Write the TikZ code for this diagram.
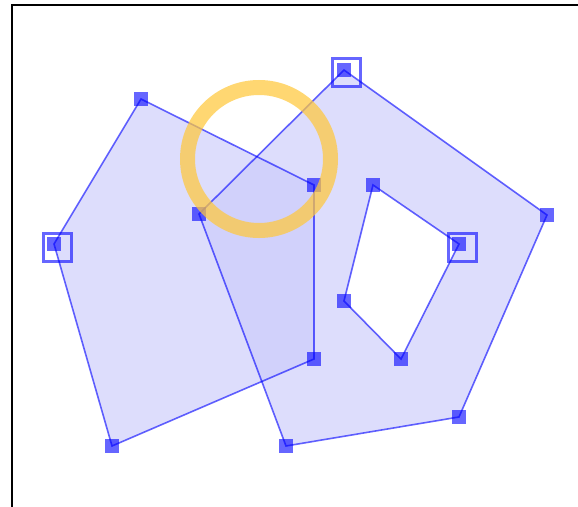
\documentclass[tikz,border=0pt]{standalone}
\begin{document}
\begin{tikzpicture}[x=1pt,y=-1pt,
  edge/.style={draw=blue,draw opacity=0.6,line width=1.6pt},
  face/.style={fill={rgb,255:red,221;green,221;blue,252}},
  overlapface/.style={fill={rgb,255:red,209;green,209;blue,251}},
  handle/.style={rectangle,fill=blue,fill opacity=0.6,minimum size=14pt,inner sep=0pt,draw=none},
  selbox/.style={rectangle,draw=blue,draw opacity=0.6,line width=3pt,minimum size=28pt,inner sep=0pt},
  ring/.style={draw={rgb,255:red,255;green,200;blue,60},draw opacity=0.72,line width=15pt}]
\useasboundingbox (0,0) rectangle (578,506);
\clip (0,0) rectangle (578,506);
\draw[line width=2pt,black] (11.8,4.5) rectangle (640,560);
% vertices
\coordinate (a1) at (141,99);
\coordinate (a2) at (314,185);
\coordinate (a3) at (314,359);
\coordinate (a4) at (112,446);
\coordinate (a5) at (54,244);
\coordinate (b1) at (344,70);
\coordinate (b2) at (547,215);
\coordinate (b3) at (459,417);
\coordinate (b4) at (286,446);
\coordinate (b5) at (199,214);
\coordinate (h1) at (373,185);
\coordinate (h2) at (459,244);
\coordinate (h3) at (401,359);
\coordinate (h4) at (344,301);
% faces
\fill[face] (a1) -- (a2) -- (a3) -- (a4) -- (a5) -- cycle;
\fill[face,even odd rule] (b1) -- (b2) -- (b3) -- (b4) -- (b5) -- cycle
  (h1) -- (h2) -- (h3) -- (h4) -- cycle;
\begin{scope}
  \clip (a1) -- (a2) -- (a3) -- (a4) -- (a5) -- cycle;
  \fill[overlapface] (b1) -- (b2) -- (b3) -- (b4) -- (b5) -- cycle;
\end{scope}
% edges
\draw[edge] (a1) -- (a2) -- (a3) -- (a4) -- (a5) -- cycle;
\draw[edge] (b1) -- (b2) -- (b3) -- (b4) -- (b5) -- cycle;
\draw[edge] (h1) -- (h2) -- (h3) -- (h4) -- cycle;
% handles
\foreach \p in {a1,a2,a3,a4,a5,b1,b2,b3,b4,b5,h1,h2,h3,h4}
  \node[handle] (n\p) at (\p) {};
% selection boxes
\node[selbox] (sb1) at ([shift={(2.7,2.7)}]b1) {};
\node[selbox] (sa5) at ([shift={(3,3)}]a5) {};
\node[selbox] (sh2) at ([shift={(3,3)}]h2) {};
% yellow ring
\node[circle,ring,minimum size=143pt,inner sep=0pt] (ring) at (259,159) {};
\end{tikzpicture}
\end{document}
